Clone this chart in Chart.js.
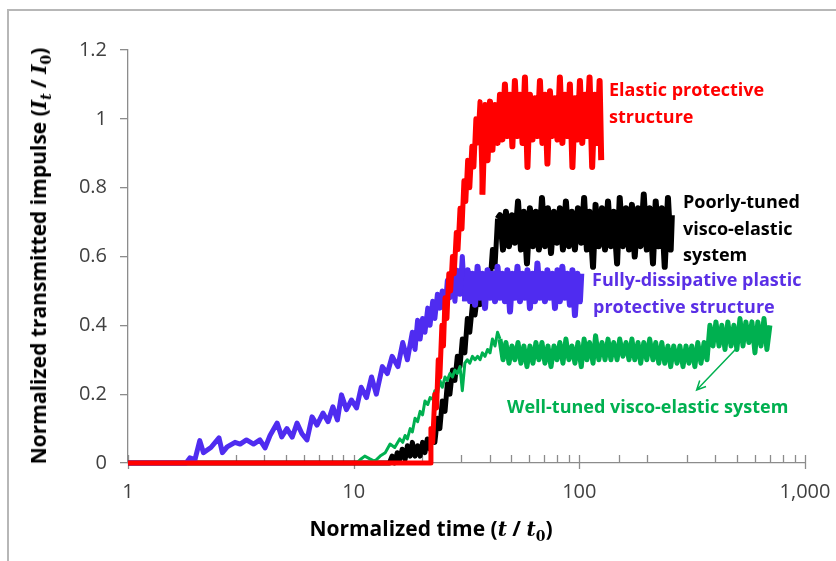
<!DOCTYPE html>
<html>
<head>
<meta charset="utf-8">
<script src="https://cdn.jsdelivr.net/npm/chart.js@4.4.1/dist/chart.umd.min.js"></script>
<style>
  html, body { margin: 0; padding: 0; background: #fff; overflow: hidden; }
  #wrap { position: relative; width: 836px; height: 561px; }
  #frame { position: absolute; left: 7px; top: 9px; width: 900px; height: 600px;
           border-left: 2px solid #b7b7b7; border-top: 2px solid #b7b7b7; }
  canvas { position: absolute; left: 0; top: 0; }
  .note { position: absolute; font: bold 18px "Open Sans", sans-serif; line-height: 20px; white-space: nowrap; }
  .red { color: #ff0000; }
  .black { color: #000; }
  .blue { color: #5a2fe6; }
  .green { color: #00b050; }
  .title { position: absolute; font: bold 21px "Open Sans", sans-serif; white-space: nowrap; color: #000;
           transform: translate(-50%, -50%); }
  .title.y { transform: translate(-50%, -50%) rotate(-90deg); }
  .m { font-family: "DejaVu Serif", serif; font-style: italic; font-weight: bold; font-size: 20px; }
  .m sub { font-size: 14px; }
  .m sub.up { font-style: normal; }
</style>
</head>
<body>
<div id="wrap">
  <div id="frame"></div>
  <canvas id="impulseChart" width="836" height="561"></canvas>

  <div class="note red" style="left:609px; top:79px;">Elastic protective</div>
  <div class="note red" style="left:609px; top:106px;">structure</div>

  <div class="note black" style="left:683px; top:191px;">Poorly-tuned</div>
  <div class="note black" style="left:683px; top:218px;">visco-elastic</div>
  <div class="note black" style="left:683px; top:244px;">system</div>

  <div class="note blue" style="left:592px; top:269px;">Fully-dissipative plastic</div>
  <div class="note blue" style="left:593px; top:296px;">protective structure</div>

  <div class="note green" style="left:507px; top:396px;">Well-tuned visco-elastic system</div>

  <div class="title y" style="left:39px; top:256px;">Normalized transmitted impulse (<span class="m">I<sub>t</sub></span> / <span class="m">I<sub class="up">0</sub></span>)</div>
  <div class="title" style="left:431px; top:529px;">Normalized time (<span class="m">t</span> / <span class="m">t<sub class="up">0</sub></span>)</div>
</div>

<script>
// Normalized time t/t0 and transmitted impulse It/I0 for each protective system
const redTime = [1, 21.8, 22.0, 22.4, 22.9, 23.3, 23.7, 24.1, 24.6, 25.0, 25.4, 25.9, 26.4, 26.9, 27.4, 27.9,
  28.5, 29.0, 29.6, 30.2, 30.8, 31.4, 32.0, 32.7, 33.4, 34.1, 34.8, 35.5, 36.3,
  37.2, 38.2, 39.2, 40.2, 41.2, 42.3, 43.4, 44.5, 45.6, 46.8, 48.0, 49.3, 50.5, 51.8, 53.2, 54.6, 56.0, 57.4,
  58.9, 60.4, 62.0, 63.6, 65.2, 66.9, 68.6, 70.4, 72.2, 74.1, 76.0, 78.0, 80.0, 82.0, 84.1, 86.3, 88.5, 90.8,
  93.2, 95.6, 98.1, 100.6, 103, 106, 108, 111, 114, 117, 120, 123, 125];
const redImpulse = [0, 0, 0.10, 0.06, 0.20, 0.16, 0.30, 0.25, 0.40, 0.34, 0.48, 0.42, 0.55, 0.50, 0.60, 0.55,
  0.67, 0.62, 0.74, 0.68, 0.82, 0.76, 0.88, 0.80, 0.92, 0.86, 1.00, 0.93, 1.05,
  0.78, 1.04, 0.88, 1.05, 0.91, 1.04, 0.93, 1.07, 0.94, 1.10, 0.95, 1.07, 0.92, 1.11, 0.95, 1.07, 0.93, 1.12,
  0.86, 1.07, 0.94, 1.06, 0.95, 1.11, 0.93, 1.07, 0.87, 1.08, 0.95, 1.06, 0.94, 1.12, 0.93, 1.07, 0.95, 1.10,
  0.86, 1.06, 0.94, 1.11, 0.93, 1.07, 0.95, 1.12, 0.86, 1.07, 0.93, 1.11, 0.88];

const blackTime = [1, 14.4, 14.8, 15.2, 15.6, 16.0, 16.4, 16.9, 17.3, 17.8, 18.2, 18.7, 19.2, 19.7, 20.2, 20.7,
  21.2, 21.8, 22.3, 22.9, 23.5, 24.1, 24.7, 25.4, 26.0, 26.7, 27.4, 28.1, 28.8, 29.6, 30.3, 31.1, 31.9, 32.7,
  33.6, 34.5, 35.4, 36.3, 37.2, 38.2, 39.2, 40.2, 41.2, 42.3, 43.4,
  44.5, 45.9, 47.3, 48.8, 50.3, 51.8, 53.5, 55.1, 56.8, 58.6, 60.4, 62.3, 64.2, 66.2, 68.3, 70.4, 72.6, 74.9,
  77.2, 79.6, 82.0, 84.6, 87.2, 89.9, 92.7, 95.6, 98.6, 102, 105, 108, 111, 115, 118, 122, 126, 130, 134, 138,
  142, 147, 151, 156, 161, 166, 171, 176, 182, 187, 193, 199, 205, 212, 218, 225, 232, 239, 247, 254, 257];
const blackImpulse = [0, 0, 0.02, 0.00, 0.03, 0.01, 0.04, 0.01, 0.05, 0.02, 0.06, 0.02, 0.05, 0.02, 0.06, 0.03,
  0.07, 0.04, 0.09, 0.06, 0.13, 0.10, 0.18, 0.15, 0.23, 0.20, 0.27, 0.24, 0.31, 0.28, 0.36, 0.32, 0.42, 0.38,
  0.46, 0.43, 0.49, 0.46, 0.52, 0.49, 0.56, 0.52, 0.62, 0.57, 0.71,
  0.72, 0.62, 0.73, 0.63, 0.72, 0.64, 0.76, 0.62, 0.73, 0.58, 0.74, 0.63, 0.73, 0.62, 0.77, 0.63, 0.74, 0.61,
  0.73, 0.64, 0.74, 0.62, 0.76, 0.63, 0.73, 0.62, 0.74, 0.64, 0.77, 0.62, 0.73, 0.57, 0.75, 0.63, 0.74, 0.62,
  0.76, 0.63, 0.73, 0.58, 0.77, 0.63, 0.74, 0.62, 0.75, 0.60, 0.74, 0.63, 0.78, 0.62, 0.74, 0.58, 0.76, 0.63,
  0.74, 0.57, 0.77, 0.62, 0.72];

const blueTime = [1, 1.81, 1.88, 1.98, 2.08, 2.16, 2.33, 2.53, 2.62, 2.75, 2.98, 3.14, 3.35, 3.60, 3.84, 4.05,
  4.26, 4.58, 4.80, 5.06, 5.34, 5.61, 5.90, 6.21, 6.54, 6.88, 7.31, 7.70, 8.09, 8.47, 8.83, 9.29, 9.78, 10.3,
  10.8, 11.4, 12.0, 12.6, 13.4, 14.1, 14.8, 15.7, 16.5, 17.3, 18.2, 18.7, 19.2, 19.7, 20.2, 20.7, 21.3, 21.8,
  22.4, 22.9, 23.5, 24.1, 24.7, 25.4, 26.0, 26.7, 27.4, 28.1, 28.8, 29.6, 30.3, 31.1,
  32.0, 32.8, 33.6, 34.5, 35.4, 36.3, 37.2, 38.2, 39.2, 40.2, 41.2, 42.3, 43.4, 44.5, 45.6, 46.8, 48.0, 49.3,
  50.5, 51.8, 53.2, 54.6, 56.0, 57.4, 58.9, 60.4, 62.0, 63.6, 65.2, 66.9, 68.6, 70.4, 72.2, 74.1, 76.0, 78.0,
  80.0, 82.0, 84.1, 86.3, 88.5, 90.8, 93.2, 95.6, 98.1, 100.6, 102];
const blueImpulse = [0, 0, 0.015, 0.01, 0.065, 0.03, 0.045, 0.073, 0.03, 0.047, 0.06, 0.055, 0.067, 0.055,
  0.067, 0.044, 0.08, 0.116, 0.076, 0.10, 0.075, 0.116, 0.085, 0.067, 0.134, 0.11, 0.145, 0.12, 0.163, 0.125,
  0.198, 0.155, 0.183, 0.16, 0.22, 0.19, 0.25, 0.20, 0.28, 0.26, 0.31, 0.28, 0.35, 0.30, 0.38, 0.33, 0.415,
  0.36, 0.42, 0.38, 0.45, 0.40, 0.47, 0.42, 0.49, 0.45, 0.50, 0.44, 0.53, 0.48, 0.55, 0.47, 0.56, 0.49, 0.60,
  0.47,
  0.56, 0.47, 0.55, 0.46, 0.57, 0.48, 0.55, 0.45, 0.56, 0.48, 0.55, 0.47, 0.57, 0.48, 0.55, 0.47, 0.56, 0.44,
  0.55, 0.48, 0.57, 0.47, 0.55, 0.48, 0.56, 0.45, 0.55, 0.47, 0.58, 0.48, 0.55, 0.47, 0.56, 0.48, 0.55, 0.45,
  0.56, 0.47, 0.57, 0.48, 0.55, 0.46, 0.56, 0.43, 0.55, 0.47, 0.55];

const greenTime = [1, 10.3, 10.7, 11.2, 11.8, 12.4, 13.1, 13.8, 14.5, 15.2, 16.0, 16.5, 16.9, 17.3, 17.8, 18.2,
  18.7, 19.2, 19.7, 20.2, 20.7, 21.3, 21.8, 22.4, 22.9, 23.5, 24.1, 24.7, 25.4, 26.0, 26.7, 27.4, 28.1, 28.8,
  29.6, 30.3, 31.1, 31.9, 32.7, 33.6, 34.5, 35.4, 36.3, 37.2, 38.2, 39.2, 40.2, 41.2, 42.3, 43.4,
  44.5, 45.9, 47.3, 48.8, 50.3, 51.8, 53.5, 55.1, 56.8, 58.6, 60.4, 62.3, 64.2, 66.2, 68.3, 70.4, 72.6, 74.9,
  77.2, 79.6, 82.0, 84.6, 87.2, 89.9, 92.7, 95.6, 98.6, 102, 105, 108, 111, 115, 118, 122, 126, 130, 134, 138,
  142, 147, 151, 156, 161, 166, 171, 176, 182, 187, 193, 199, 205, 212, 218, 225, 232, 239, 247, 254, 262, 271,
  279, 288, 297, 306, 315, 325, 335, 346, 357, 368, 379, 391, 403, 416, 428, 442, 455, 470, 484, 499, 515, 531,
  547, 564, 582, 600, 618, 638, 658, 678, 699];
const greenImpulse = [0, 0, 0.01, 0.02, 0.012, 0.005, 0.02, 0.03, 0.055, 0.045, 0.07, 0.06, 0.08, 0.07, 0.10,
  0.09, 0.13, 0.12, 0.15, 0.14, 0.18, 0.17, 0.19, 0.185, 0.21, 0.20, 0.24, 0.22, 0.25, 0.24, 0.26, 0.25, 0.27,
  0.26, 0.28, 0.21, 0.29, 0.30, 0.29, 0.31, 0.30, 0.31, 0.30, 0.32, 0.31, 0.33, 0.32, 0.36, 0.34, 0.38,
  0.36, 0.30, 0.35, 0.29, 0.34, 0.30, 0.35, 0.29, 0.34, 0.28, 0.34, 0.29, 0.35, 0.30, 0.35, 0.29, 0.34, 0.28,
  0.34, 0.30, 0.35, 0.29, 0.36, 0.30, 0.34, 0.29, 0.35, 0.28, 0.36, 0.30, 0.35, 0.29, 0.37, 0.30, 0.35, 0.30,
  0.36, 0.30, 0.35, 0.30, 0.36, 0.31, 0.35, 0.30, 0.36, 0.30, 0.35, 0.29, 0.35, 0.30, 0.36, 0.30, 0.35, 0.29,
  0.35, 0.29, 0.34, 0.28, 0.34, 0.29, 0.34, 0.28, 0.34, 0.29, 0.34, 0.28, 0.35, 0.29, 0.35, 0.30, 0.40, 0.34,
  0.41, 0.34, 0.40, 0.33, 0.41, 0.34, 0.40, 0.33, 0.42, 0.34, 0.41, 0.35, 0.41, 0.32, 0.41, 0.34, 0.42, 0.33,
  0.40];

const yTickStep = 0.2;
const xDecades = [1, 10, 100, 1000];

const axisColor = '#8c8c8c';
const tickTextColor = '#404040';

function toPoints(times, values) {
    return times.map((t, i) => ({ x: t, y: values[i] }));
}

function isDecade(v) {
    const e = Math.log10(v);
    return Math.abs(e - Math.round(e)) < 1e-9;
}

// Heavier stroke once a response settles into its oscillating plateau
function plateauWidth(fromTime, thin, thick) {
    return { borderWidth: c => (c.p0.parsed.x >= fromTime ? thick : thin) };
}

// Log-axis tick marks (minor ticks point up, decades cross the axis) and the pointer arrow
const axisMarks = {
    id: 'axisMarks',
    beforeDatasetsDraw(chart) {
        const xs = chart.scales.x;
        const y0 = chart.chartArea.bottom;
        const ctx = chart.ctx;
        ctx.save();
        ctx.strokeStyle = axisColor;
        ctx.lineWidth = 1.3;
        xs.ticks.forEach(tk => {
            const p = Math.round(xs.getPixelForValue(tk.value)) + 0.5;
            ctx.beginPath();
            ctx.moveTo(p, y0 - 8);
            ctx.lineTo(p, isDecade(tk.value) ? y0 + 6 : y0);
            ctx.stroke();
        });
        ctx.restore();
    },
    afterDatasetsDraw(chart) {
        const xs = chart.scales.x, ys = chart.scales.y, ctx = chart.ctx;
        const x1 = xs.getPixelForValue(499), y1 = ys.getPixelForValue(0.334);
        const x2 = xs.getPixelForValue(331), y2 = ys.getPixelForValue(0.212);
        const ang = Math.atan2(y2 - y1, x2 - x1);
        const head = 10;
        ctx.save();
        ctx.strokeStyle = '#00b050';
        ctx.lineWidth = 1.5;
        ctx.beginPath();
        ctx.moveTo(x1, y1);
        ctx.lineTo(x2, y2);
        ctx.moveTo(x2 - head * Math.cos(ang - 0.45), y2 - head * Math.sin(ang - 0.45));
        ctx.lineTo(x2, y2);
        ctx.lineTo(x2 - head * Math.cos(ang + 0.45), y2 - head * Math.sin(ang + 0.45));
        ctx.stroke();
        ctx.restore();
    }
};

const lineStyle = { pointRadius: 0, tension: 0, borderJoinStyle: 'round', clip: 6 };

new Chart(document.getElementById('impulseChart'), {
    type: 'line',
    data: {
        datasets: [
            { label: 'Elastic protective structure', data: toPoints(redTime, redImpulse),
              borderColor: '#ff0000', borderWidth: 5, order: 0, ...lineStyle,
              segment: plateauWidth(37, 5, 6) },
            { label: 'Well-tuned visco-elastic system', data: toPoints(greenTime, greenImpulse),
              borderColor: '#00b050', borderWidth: 3, order: 1, ...lineStyle,
              segment: plateauWidth(44, 3, 5) },
            { label: 'Fully-dissipative plastic protective structure', data: toPoints(blueTime, blueImpulse),
              borderColor: '#4f2cf0', borderWidth: 5, order: 2, ...lineStyle,
              segment: plateauWidth(31, 5, 6) },
            { label: 'Poorly-tuned visco-elastic system', data: toPoints(blackTime, blackImpulse),
              borderColor: '#000000', borderWidth: 5, order: 3, ...lineStyle,
              segment: plateauWidth(43, 5, 6) }
        ]
    },
    options: {
        responsive: false,
        animation: false,
        parsing: false,
        layout: { padding: { left: 0, right: 31, top: 50, bottom: 0 } },
        plugins: { legend: { display: false }, tooltip: { enabled: false } },
        scales: {
            x: {
                type: 'logarithmic',
                min: xDecades[0],
                max: xDecades[xDecades.length - 1],
                afterFit(scale) { scale.height = 98; },
                // tick marks are drawn by axisMarks; the invisible tick length only spaces the labels
                grid: { drawOnChartArea: false, drawTicks: true, tickLength: 13, tickColor: 'rgba(0,0,0,0)' },
                border: { display: true, color: axisColor, width: 1.3 },
                ticks: {
                    autoSkip: false,
                    maxRotation: 0,
                    padding: 4,
                    color: tickTextColor,
                    font: { family: 'Open Sans', size: 20 },
                    callback: v => (xDecades.includes(v) ? v.toLocaleString('en-US') : '')
                }
            },
            y: {
                min: 0,
                max: 1.2,
                afterFit(scale) { scale.width = 128; },
                grid: { drawOnChartArea: false, tickLength: 8, color: axisColor, lineWidth: 1.3 },
                border: { color: axisColor, width: 1.3 },
                ticks: {
                    stepSize: yTickStep,
                    padding: 13,
                    color: tickTextColor,
                    font: { family: 'Open Sans', size: 20 },
                    callback: v => String(Number(v.toFixed(1)))
                }
            }
        }
    },
    plugins: [axisMarks]
});
</script>
</body>
</html>
